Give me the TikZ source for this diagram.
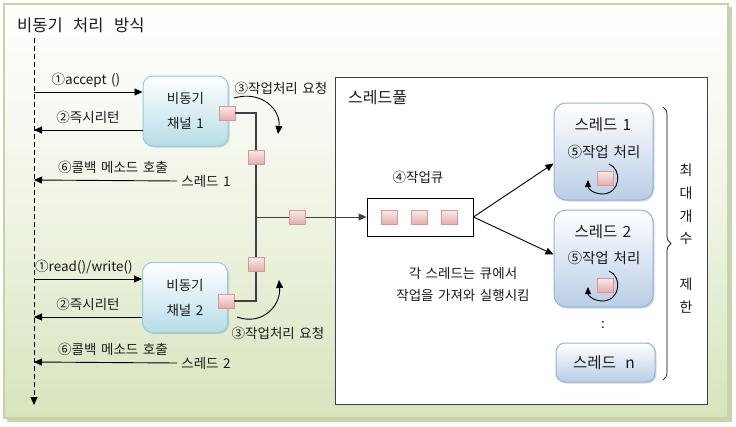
\documentclass[tikz,border=0pt]{standalone}
\usepackage{fontspec}
\setmainfont{Noto Sans CJK KR}[WordSpace={1.5}]
\usetikzlibrary{arrows.meta,shadows,decorations.pathreplacing,calc}
\definecolor{framebot}{HTML}{D7E4BD}
\definecolor{framebd}{HTML}{C3D69B}
\definecolor{frameshadow}{HTML}{C9D2B6}
\definecolor{chanbd}{HTML}{92CDDC}
\definecolor{chanbot}{HTML}{B6DDE8}
\definecolor{thrbd}{HTML}{95B3D7}
\definecolor{thrbot}{HTML}{B9CDE5}
\definecolor{sqbd}{HTML}{D99694}
\definecolor{sqtop}{HTML}{FBEAEA}
\definecolor{sqbot}{HTML}{E2AFAE}
\definecolor{linegray}{HTML}{404040}
\definecolor{txt}{HTML}{1A1A1A}
\tikzset{
  lbl/.style={font=\fontsize{13.5}{16}\selectfont, inner sep=1pt, text=txt},
  arr/.style={line width=0.9pt, -{Triangle[length=8pt,width=7pt]}},
  chan/.style={draw=chanbd, line width=1pt, rounded corners=10pt, top color=white, bottom color=chanbot,
    minimum width=85pt, minimum height=70pt, align=center, font=\fontsize{13.5}{25}\selectfont, text=txt,
    drop shadow={shadow xshift=1.5pt, shadow yshift=-1.5pt, opacity=0.3}},
  thr/.style={draw=thrbd, line width=1pt, rounded corners=12pt, top color=white, bottom color=thrbot,
    minimum width=99pt, drop shadow={shadow xshift=1.5pt, shadow yshift=-1.5pt, opacity=0.3}},
  sq/.style={draw=sqbd, line width=0.8pt, top color=sqtop, bottom color=sqbot, minimum width=16pt,
    minimum height=14pt, inner sep=0pt, drop shadow={shadow xshift=1pt, shadow yshift=-1pt, opacity=0.3}},
  conn/.style={draw=linegray, line width=1.1pt},
  thrtxt/.style={font=\fontsize{15.5}{18}\selectfont, inner sep=1pt, text=txt},
}
\begin{document}
\begin{tikzpicture}[x=1pt,y=-1pt]
\useasboundingbox (0,0) rectangle (736,426);
% outer frame
\fill[frameshadow] (7,7) rectangle (732,422);
\shade[top color=white, bottom color=framebot, middle color=white!60!framebot] (4,4) rectangle (728,418);
\draw[framebd, line width=1.2pt] (4,4) rectangle (728,418);
\node[anchor=west, font=\fontsize{16.5}{20}\selectfont, inner sep=0pt, text=txt] (title) at (17,25) {비동기\hspace{0.3em} 처리\hspace{0.3em} 방식};
% lifeline
\coordinate (lifeTop) at (34,38);
\coordinate (lifeBot) at (34,405);
\draw[line width=0.9pt, dashed, dash pattern=on 5pt off 3pt, -{Triangle[length=8pt,width=7pt]}] (lifeTop) -- (lifeBot);
% thread pool
\node[draw=linegray, fill=white, line width=0.9pt, minimum width=372pt, minimum height=327pt, inner sep=0pt] (pool) at (521,240.5) {};
\node[anchor=west, font=\fontsize{16}{18}\selectfont, inner sep=0pt, text=txt] (pooltxt) at (348,98) {스레드풀};
% channels
\node[chan] (ch1) at (185.5,111) {비동기\\채널 1};
\node[chan] (ch2) at (185,297.5) {비동기\\채널 2};
% lifeline coordinates
\coordinate (d1a) at (34,92);
\coordinate (d2a) at (34,130);
\coordinate (d6a) at (34,180);
\coordinate (d1b) at (34,279);
\coordinate (d2b) at (34,317);
\coordinate (d6b) at (34,362);
% labels
\node[lbl] (l1a) at (86,80) {①accept ()};
\node[lbl] (l2a) at (88,117) {②즉시리턴};
\node[lbl] (l6a) at (113,167) {⑥콜백 메소드 호출};
\node[lbl] (t1lbl) at (206,181) {스레드 1};
\node[lbl] (l1b) at (84,267) {①read()/write()};
\node[lbl] (l2b) at (88,304) {②즉시리턴};
\node[lbl] (l6b) at (113,349) {⑥콜백 메소드 호출};
\node[lbl] (t2lbl) at (206,363) {스레드 2};
\node[lbl] (l3a) at (281,88) {③작업처리 요청};
\node[lbl] (l3b) at (278,333) {③작업처리 요청};
% arrows to/from lifeline
\draw[arr] (d1a) -- (d1a -| ch1.west);
\draw[arr] (d2a -| ch1.west) -- (d2a);
\draw[arr] ([xshift=-3pt]t1lbl.west) -- (d6a);
\draw[arr] (d1b) -- (d1b -| ch2.west);
\draw[arr] (d2b -| ch2.west) -- (d2b);
\draw[arr] ([xshift=-3pt]t2lbl.west) -- (d6b);
% queue
\node[draw=black, fill=white, line width=0.9pt, minimum width=106pt, minimum height=38pt] (q) at (420,217) {};
\node[lbl] (qlbl) at (418,177) {④작업큐};
% squares and junction lines
\node[sq] (s1) at (227,113) {};
\node[sq] (s6) at (226,301) {};
\coordinate (j1) at (256,113);
\coordinate (jm) at (256,217);
\coordinate (j2) at (256,301);
\draw[conn] (s1.east) -- (j1) -- (j2) -- (s6.east);
\draw[arr, draw=linegray] (jm) -- (q.west);
\node[sq] (s2) at (256,157) {};
\node[sq] (s3) at (297,217) {};
\node[sq] (s4) at (256,264) {};
\node[sq] (q1) at (389,217) {};
\node[sq] (q2) at (419,217) {};
\node[sq] (q3) at (449,217) {};
% curved request arrows
\coordinate (c1s) at (234,98);
\coordinate (c1e) at (278,134);
\draw[arr] (c1s) .. controls (262,90) and (281,110) .. (c1e);
\coordinate (c2s) at (237,317);
\coordinate (c2e) at (279,280);
\draw[arr] (c2s) .. controls (262,326) and (281,306) .. (c2e);
% threads
\node[thr, minimum height=97pt] (th1) at (603.5,151.5) {};
\node[thr, minimum height=97pt] (th2) at (603.5,258.5) {};
\node[thr, minimum width=99pt, minimum height=39pt, rounded corners=9pt] (thn) at (605.5,362.5) {};
\node[thrtxt] (th1a) at (603,125) {스레드 1};
\node[lbl, font=\fontsize{14.5}{16}\selectfont] (th1b) at (604,152) {⑤작업 처리};
\node[sq] (th1s) at (605,178) {};
\draw[line width=0.9pt, -{Triangle[length=7pt,width=6pt]}] (609,164) .. controls (622,169) and (621,193) .. (603,194) .. controls (594,194) and (588,189) .. (588,180);
\node[thrtxt] (th2a) at (603,232) {스레드 2};
\node[lbl, font=\fontsize{14.5}{16}\selectfont] (th2b) at (604,258) {⑤작업 처리};
\node[sq] (th2s) at (605,285) {};
\draw[line width=0.9pt, -{Triangle[length=7pt,width=6pt]}] (609,271) .. controls (622,276) and (621,300) .. (603,301) .. controls (594,301) and (588,296) .. (588,287);
\node[lbl] (dots) at (603,325) {:};
\node[thrtxt] (thna) at (604,363) {스레드\hspace{0.6em}n};
% queue to threads
\draw[arr] (q.east) -- ([yshift=-12pt]th1.west);
\draw[arr] (q.east) -- ([yshift=4pt]th2.west);
% explanation
\node[lbl, align=center, font=\fontsize{13.5}{22}\selectfont] (expl) at (463,284) {각 스레드는 큐에서\\작업을 가져와 실행시킴};
% brace
\coordinate (brT) at (663,107);
\coordinate (brB) at (663,380);
\draw[line width=0.7pt, decorate, decoration={brace, amplitude=8pt}] (brT) -- (brB);
\node[align=center, font=\fontsize{14}{22.8}\selectfont, inner sep=0pt, text=txt] (lim) at (686,238.5) {최\\대\\개\\수\\[22.8pt]제\\한};
\end{tikzpicture}
\end{document}
